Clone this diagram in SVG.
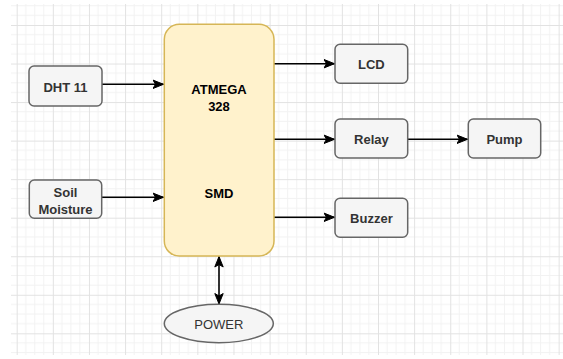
<svg xmlns="http://www.w3.org/2000/svg" width="563" height="359" viewBox="0 0 563 359">
<style>
.box{fill:#f5f5f5;stroke:#666666;stroke-width:1.5}
.main{fill:#fff2cc;stroke:#d6b656;stroke-width:1.5}
.lbl{font-family:"Liberation Sans",Arial,sans-serif;font-size:13px;font-weight:bold;fill:#333333;text-anchor:middle}
.mlbl{font-family:"Liberation Sans",Arial,sans-serif;font-size:13px;font-weight:bold;fill:#000000;text-anchor:middle}
.plbl{font-family:"Liberation Sans",Arial,sans-serif;font-size:13px;fill:#333333;text-anchor:middle}
.edge{fill:none;stroke:#000000;stroke-width:1.6}
</style>
<defs>
<pattern id="grid" patternUnits="userSpaceOnUse" x="16.7" y="25" width="36.13" height="38.54">
<path d="M9.03 0V38.54M18.07 0V38.54M27.1 0V38.54M0 9.635H36.13M0 19.27H36.13M0 28.9H36.13" stroke="#f2f2f2" stroke-width="1" fill="none"/>
<path d="M0.5 0V38.54M0 0.5H36.13" stroke="#e2e2e2" stroke-width="1" fill="none"/>
</pattern>
<marker id="arr" markerUnits="userSpaceOnUse" markerWidth="12" markerHeight="10" refX="11" refY="5" orient="auto">
<path d="M0.5,0.8 L11,5 L0.5,9.2 L3,5 Z" fill="#000000" stroke="#000000" stroke-width="1"/>
</marker>
<marker id="arrs" markerUnits="userSpaceOnUse" markerWidth="12" markerHeight="10" refX="11" refY="5" orient="auto-start-reverse">
<path d="M0.5,0.8 L11,5 L0.5,9.2 L3,5 Z" fill="#000000" stroke="#000000" stroke-width="1"/>
</marker>
</defs>
<rect x="0" y="0" width="563" height="359" fill="#ffffff"/>
<rect x="11" y="4" width="552" height="351" fill="url(#grid)"/>
<g id="connectors">
<path class="edge" d="M102 84.3H163.5" marker-end="url(#arr)"/>
<path class="edge" d="M102 197.3H163.5" marker-end="url(#arr)"/>
<path class="edge" d="M274 63.7H334.5" marker-end="url(#arr)"/>
<path class="edge" d="M274 139.3H334.5" marker-end="url(#arr)"/>
<path class="edge" d="M408 139.3H467.5" marker-end="url(#arr)"/>
<path class="edge" d="M274 217.3H334.5" marker-end="url(#arr)"/>
<path class="edge" d="M219 256.5V304" marker-start="url(#arrs)" marker-end="url(#arrs)"/>
</g>
<g id="dht11">
<rect class="box" x="29" y="66" width="73" height="40" rx="5"/>
<text class="lbl" x="65.5" y="91.5">DHT 11</text>
</g>
<g id="soil">
<rect class="box" x="29.3" y="180" width="72.4" height="38.3" rx="5"/>
<text class="lbl" x="65.5" y="197">Soil</text>
<text class="lbl" x="65.5" y="213.5">Moisture</text>
</g>
<g id="atmega">
<rect class="main" x="164.3" y="24.3" width="109.7" height="231.7" rx="15"/>
<text class="mlbl" x="219" y="94">ATMEGA</text>
<text class="mlbl" x="219" y="111">328</text>
<text class="mlbl" x="219" y="198">SMD</text>
</g>
<g id="lcd">
<rect class="box" x="335" y="44.3" width="72.7" height="39" rx="5"/>
<text class="lbl" x="371.4" y="68.5">LCD</text>
</g>
<g id="relay">
<rect class="box" x="335" y="119" width="72.7" height="39" rx="5"/>
<text class="lbl" x="371.4" y="143.5">Relay</text>
</g>
<g id="pump">
<rect class="box" x="468.3" y="119" width="72.4" height="39" rx="5"/>
<text class="lbl" x="504.5" y="143.5">Pump</text>
</g>
<g id="buzzer">
<rect class="box" x="335" y="198.3" width="72.7" height="39" rx="5"/>
<text class="lbl" x="371.4" y="222.8">Buzzer</text>
</g>
<g id="power">
<ellipse class="box" cx="218.8" cy="323.5" rx="54.5" ry="19.2"/>
<text class="plbl" x="218.8" y="329">POWER</text>
</g>
</svg>
